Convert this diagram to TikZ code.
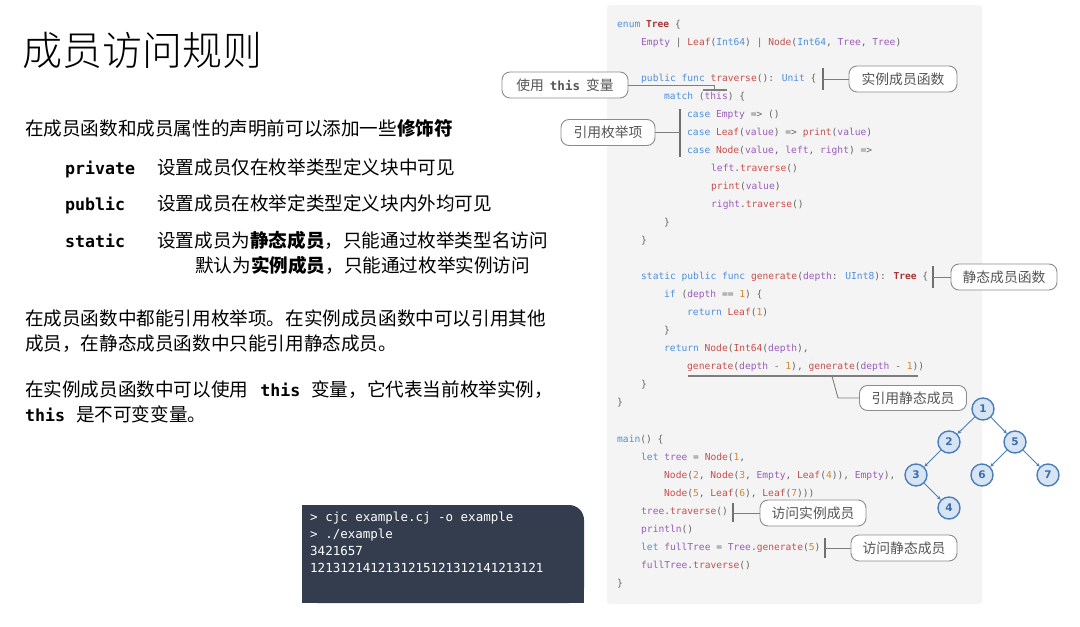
\documentclass[tikz,border=0pt]{standalone}
\usepackage{fontspec}
\usetikzlibrary{arrows.meta}
\setmainfont{Noto Sans CJK SC}
\setmonofont{DejaVu Sans Mono}
\newfontfamily\codefont{DejaVu Sans Mono}
\newfontfamily\treefont{DejaVu Sans}
\newfontfamily\titlefont{Noto Sans CJK SC Light}
\definecolor{ckw}{HTML}{4F8ED8}
\definecolor{cvar}{HTML}{9A5CB8}
\definecolor{cfn}{HTML}{C4504E}
\definecolor{cnum}{HTML}{D6852E}
\definecolor{ctype}{HTML}{A83535}
\definecolor{cpun}{HTML}{666666}
\definecolor{panel}{HTML}{F4F4F4}
\definecolor{cbord}{HTML}{8C8C8C}
\definecolor{ctext}{HTML}{555555}
\definecolor{tfill}{HTML}{D6E4F4}
\definecolor{tline}{HTML}{4A7EBB}
\definecolor{ttext}{HTML}{3D6DA6}
\definecolor{term}{HTML}{333D4E}
\newcommand\cK[1]{\textcolor{ckw}{#1}}
\newcommand\cV[1]{\textcolor{cvar}{#1}}
\newcommand\cF[1]{\textcolor{cfn}{#1}}
\newcommand\cN[1]{\textcolor{cnum}{#1}}
\newcommand\cT[1]{\textcolor{ctype}{\bfseries #1}}
\begin{document}
\begin{tikzpicture}[x=1pt,y=-1pt,
  code/.style={anchor=base west,inner sep=0pt,text=cpun,font=\codefont\fontsize{9.6}{11}\selectfont},
  body/.style={anchor=base west,inner sep=0pt,text=black,font=\fontsize{18.6}{22}\selectfont},
  kwd/.style={anchor=base west,inner sep=0pt,text=black,font=\ttfamily\bfseries\fontsize{16.6}{20}\selectfont},
  callout/.style={draw=cbord,line width=0.9pt,fill=white,rounded corners=8pt,text=ctext,
     font=\fontsize{13.8}{16}\selectfont,minimum height=26pt,inner sep=0pt},
  conn/.style={draw=cbord!90!black,line width=0.9pt},
  bar/.style={draw=cbord!80!black,line width=1.6pt},
  tnode/.style={circle,draw=tline,line width=1.4pt,fill=tfill,minimum size=22pt,inner sep=0pt,
     text=ttext,font=\treefont\bfseries\fontsize{10.5}{12}\selectfont},
  tedge/.style={draw=tline,line width=0.9pt,-{Stealth[length=4pt,width=3.5pt]}},
  termtext/.style={anchor=base west,inner sep=0pt,text=white,font=\codefont\fontsize{12.5}{14}\selectfont}]
\useasboundingbox (0,0) rectangle (1080,627);
\fill[white] (0,0) rectangle (1080,627);
% code panel
\fill[panel,rounded corners=3pt] (607,5) rectangle (982,604);
% ---- left text ----
\node[anchor=base west,inner sep=0pt,font=\titlefont\fontsize{40}{44}\selectfont] (title) at (22,65) {成员访问规则};
\node[body] (p1) at (25,135) {在成员函数和成员属性的声明前可以添加一些\textbf{修饰符}};
\node[kwd] (kpriv) at (65,174) {private};
\node[body] (dpriv) at (157,174) {设置成员仅在枚举类型定义块中可见};
\node[kwd] (kpub) at (65,210) {public};
\node[body] (dpub) at (157,210) {设置成员在枚举定类型定义块内外均可见};
\node[kwd] (kstat) at (65,247) {static};
\node[body] (dstat) at (157,247) {设置成员为\textbf{静态成员}，只能通过枚举类型名访问};
\node[body] (ddef) at (195,272) {默认为\textbf{实例成员}，只能通过枚举实例访问};
\node[body] (p2a) at (25,325) {在成员函数中都能引用枚举项。在实例成员函数中可以引用其他};
\node[body] (p2b) at (25,350) {成员，在静态成员函数中只能引用静态成员。};
\node[body] (p3a) at (25,396) {在实例成员函数中可以使用\hspace{12pt}{\ttfamily\bfseries\fontsize{16.6}{20}\selectfont this}\hspace{11pt}变量，它代表当前枚举实例，};
\node[body] (p3b) at (25,421) {{\ttfamily\bfseries\fontsize{16.6}{20}\selectfont this}\hspace{11pt}是不可变变量。};
% ---- terminal ----
\fill[term,rounded corners=15pt] (302,505) rectangle (584,603);
\fill[term] (302,505) rectangle (340,603);
\fill[term] (302,570) rectangle (584,603);
\node[termtext] (t1l) at (310,521) {> cjc example.cj -o example};
\node[termtext] (t2l) at (310,538) {> ./example};
\node[termtext] (t3l) at (310,555) {3421657};
\node[termtext] (t4l) at (310,572) {1213121412131215121312141213121};
% ---- code ----
\node[code] (c01) at (617,27.5) {\cK{enum} \cT{Tree} \{};
\node[code] (c02) at (641,45.5) {\cV{Empty} | \cF{Leaf}(\cK{Int64}) | \cF{Node}(\cK{Int64}, \cV{Tree}, \cV{Tree})};
\node[code] (c03) at (641,81.5) {\cK{public} \cK{func} \cF{traverse}(): \cK{Unit} \{};
\node[code] (c04) at (664,99.5) {\cK{match} (\cV{this}) \{};
\node[code] (c05) at (687,117.5) {\cK{case} \cV{Empty} => ()};
\node[code] (c06) at (687,135.5) {\cK{case} \cF{Leaf}(\cV{value}) => \cF{print}(\cV{value})};
\node[code] (c07) at (687,153.5) {\cK{case} \cF{Node}(\cV{value}, \cV{left}, \cV{right}) =>};
\node[code] (c08) at (711,171.5) {\cV{left}.\cF{traverse}()};
\node[code] (c09) at (711,189.5) {\cF{print}(\cV{value})};
\node[code] (c10) at (711,207.5) {\cV{right}.\cF{traverse}()};
\node[code] (c11) at (664,225.5) {\}};
\node[code] (c12) at (641,243.5) {\}};
\node[code] (c13) at (641,279.5) {\cK{static} \cK{public} \cK{func} \cF{generate}(\cV{depth}: \cK{UInt8}): \cT{Tree} \{};
\node[code] (c14) at (664,297.5) {\cK{if} (\cV{depth} == \cN{1}) \{};
\node[code] (c15) at (687,315.5) {\cK{return} \cF{Leaf}(\cN{1})};
\node[code] (c16) at (664,333.5) {\}};
\node[code] (c17) at (664,351.5) {\cK{return} \cF{Node}(\cF{Int64}(\cV{depth}),};
\node[code] (c18) at (687,369.5) {\cF{generate}(\cV{depth} - \cN{1}), \cF{generate}(\cV{depth} - \cN{1}))};
\node[code] (c19) at (641,387.5) {\}};
\node[code] (c20) at (617,405.5) {\}};
\node[code] (c21) at (617,442.5) {\cK{main}() \{};
\node[code] (c22) at (641,460.5) {\cK{let} \cV{tree} = \cF{Node}(\cN{1},};
\node[code] (c23) at (664,478.5) {\cF{Node}(\cN{2}, \cF{Node}(\cN{3}, \cV{Empty}, \cF{Leaf}(\cN{4})), \cV{Empty}),};
\node[code] (c24) at (664,496.5) {\cF{Node}(\cN{5}, \cF{Leaf}(\cN{6}), \cF{Leaf}(\cN{7})))};
\node[code] (c25) at (641,514.5) {\cV{tree}.\cF{traverse}()};
\node[code] (c26) at (641,532.5) {\cV{println}()};
\node[code] (c27) at (641,550.5) {\cK{let} \cV{fullTree} = \cV{Tree}.\cF{generate}(\cN{5})};
\node[code] (c28) at (641,568.5) {\cV{fullTree}.\cF{traverse}()};
\node[code] (c29) at (617,586.5) {\}};
% ---- callouts ----
\node[callout,minimum width=126pt] (thisvar) at (565,85) {使用\hspace{6pt}{\ttfamily\bfseries\fontsize{12.5}{15}\selectfont this}\hspace{6pt}变量};
\node[callout,minimum width=108pt] (instfn) at (903,79) {实例成员函数};
\node[callout,minimum width=94pt] (enumitem) at (608,132.5) {引用枚举项};
\node[callout,minimum width=106pt] (staticfn) at (1004,277) {静态成员函数};
\node[callout,minimum width=107pt,minimum height=25pt] (refstatic) at (913,398) {引用静态成员};
\node[callout,minimum width=106pt] (accinst) at (813,513) {访问实例成员};
\node[callout,minimum width=106pt] (accstatic) at (904,548) {访问静态成员};
% connectors
\coordinate (thisL) at (703,90);
\coordinate (thisR) at (727,90);
\coordinate (thisM) at (714,90);
\draw[conn] (thisvar.east) -- (thisvar.east -| thisM) -- (thisM);
\draw[conn,line width=1.3pt] (thisL) -- (thisR);
\coordinate (b1t) at (823,68); \coordinate (b1b) at (823,90);
\draw[bar] (b1t) -- (b1b);
\draw[conn] (instfn.west) -- (instfn.west -| b1t);
\coordinate (b2t) at (680,109); \coordinate (b2b) at (680,157);
\draw[bar] (b2t) -- (b2b);
\draw[conn] (enumitem.east) -- (enumitem.east -| b2t);
\coordinate (b3t) at (933,266); \coordinate (b3b) at (933,288);
\draw[bar] (b3t) -- (b3b);
\draw[conn] (staticfn.west) -- (staticfn.west -| b3t);
\coordinate (uL) at (688,376); \coordinate (uR) at (918,376);
\coordinate (uM) at (832,376); \coordinate (uK) at (838,398);
\draw[conn,line width=1.3pt] (uL) -- (uR);
\draw[conn] (uM) -- (uK) -- (refstatic.west);
\coordinate (b4t) at (733,503); \coordinate (b4b) at (733,522);
\draw[bar] (b4t) -- (b4b);
\draw[conn] (accinst.west) -- (accinst.west -| b4t);
\coordinate (b5t) at (825,538); \coordinate (b5b) at (825,558);
\draw[bar] (b5t) -- (b5b);
\draw[conn] (accstatic.west) -- (accstatic.west -| b5t);
% ---- tree ----
\node[tnode] (n1) at (983,409) {1};
\node[tnode] (n2) at (949,442) {2};
\node[tnode] (n5) at (1015,442) {5};
\node[tnode] (n3) at (916,475) {3};
\node[tnode] (n6) at (982,475) {6};
\node[tnode] (n7) at (1048,475) {7};
\node[tnode] (n4) at (949,508) {4};
\draw[tedge] (n1) -- (n2);
\draw[tedge] (n1) -- (n5);
\draw[tedge] (n2) -- (n3);
\draw[tedge] (n3) -- (n4);
\draw[tedge] (n5) -- (n6);
\draw[tedge] (n5) -- (n7);
\end{tikzpicture}
\end{document}
